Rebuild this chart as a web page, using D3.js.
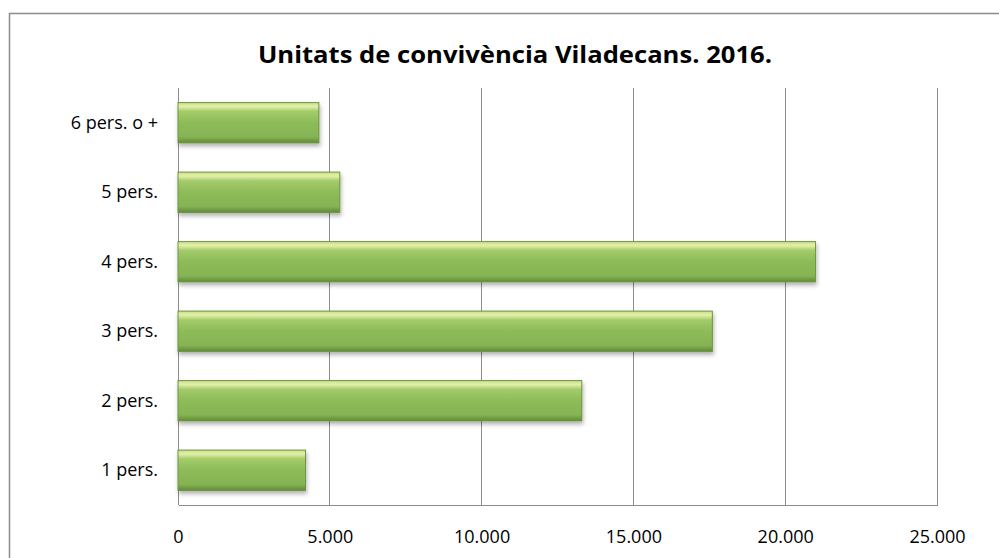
<!DOCTYPE html>
<html>
<head>
<meta charset="utf-8">
<script src="https://cdn.jsdelivr.net/npm/d3@7"></script>
<style>
  body { margin: 0; background: #fff; }
  svg { display: block; font-family: "Open Sans", Lato, sans-serif; }
</style>
</head>
<body>
<svg width="999" height="558"></svg>
<script>
var categories = ['1 pers.', '2 pers.', '3 pers.', '4 pers.', '5 pers.', '6 pers. o +']
var values = [4200, 13300, 17600, 21000, 5330, 4640]
var tickValues = [0, 5000, 10000, 15000, 20000, 25000]
var title = 'Unitats de convivència Viladecans. 2016.'

var svg = d3.select('svg')
var margin = {top: 88, right: 62, bottom: 53, left: 178}
var width = 999
var height = 558

// chart frame
svg.append('rect')
  .attr('x', 9.5).attr('y', 13.5)
  .attr('width', 1020).attr('height', 600)
  .attr('fill', '#fff')
  .attr('stroke', '#8c8c8c')
  .attr('stroke-width', 1.5)

var defs = svg.append('defs')
var grad = defs.append('linearGradient')
  .attr('id', 'barGrad')
  .attr('x1', 0).attr('y1', 0).attr('x2', 0).attr('y2', 1)
grad.append('stop').attr('offset', '0%').attr('stop-color', '#c9e08c')
grad.append('stop').attr('offset', '10%').attr('stop-color', '#e4efa8')
grad.append('stop').attr('offset', '22%').attr('stop-color', '#a3cb6a')
grad.append('stop').attr('offset', '50%').attr('stop-color', '#8dbb58')
grad.append('stop').attr('offset', '85%').attr('stop-color', '#86b454')
grad.append('stop').attr('offset', '100%').attr('stop-color', '#5f8a35')

var shadow = defs.append('filter').attr('id', 'shadow')
  .attr('x', '-5%').attr('y', '-20%').attr('width', '110%').attr('height', '160%')
shadow.append('feDropShadow')
  .attr('dx', 1).attr('dy', 3).attr('stdDeviation', 2)
  .attr('flood-color', '#000').attr('flood-opacity', 0.3)

var x = d3.scaleLinear()
  .domain([0, 25000])
  .range([margin.left, width - margin.right])

var y = d3.scaleBand()
  .domain(categories.slice().reverse())
  .range([margin.top, height - margin.bottom])
  .paddingInner(0.42)
  .paddingOuter(0.21)

var fmt = function(d) { return d3.format(',')(d).replace(/,/g, '.') }

// gridlines
svg.append('g')
  .selectAll('line').data(tickValues).enter().append('line')
  .attr('x1', function(d) { return x(d) })
  .attr('x2', function(d) { return x(d) })
  .attr('y1', margin.top)
  .attr('y2', height - margin.bottom)
  .attr('stroke', '#8c8c8c')
  .attr('stroke-width', 1)
  .attr('shape-rendering', 'crispEdges')

// bottom axis
var xAxis = svg.append('g')
  .attr('transform', 'translate(0,' + (height - margin.bottom) + ')')
  .call(d3.axisBottom(x).tickValues(tickValues).tickFormat(fmt).tickSize(0).tickPadding(25))
xAxis.select('.domain').attr('stroke', '#8c8c8c').attr('shape-rendering', 'crispEdges')
xAxis.selectAll('text').attr('font-size', 18).attr('fill', '#000').attr('font-family', '"Open Sans", sans-serif')

// left axis
var yAxis = svg.append('g')
  .attr('transform', 'translate(' + margin.left + ',0)')
  .call(d3.axisLeft(y).tickSize(0).tickPadding(20))
yAxis.select('.domain').remove()
yAxis.selectAll('text').attr('font-size', 18).attr('fill', '#000').attr('font-family', '"Open Sans", sans-serif')

// bars
svg.append('g')
  .selectAll('rect').data(categories).enter().append('rect')
  .attr('x', x(0))
  .attr('y', function(d) { return y(d) })
  .attr('width', function(d, i) { return x(values[i]) - x(0) })
  .attr('height', y.bandwidth())
  .attr('fill', 'url(#barGrad)')
  .attr('stroke', '#6e9441')
  .attr('stroke-width', 1)
  .attr('filter', 'url(#shadow)')

svg.append('text')
  .attr('x', 515)
  .attr('y', 63)
  .attr('text-anchor', 'middle')
  .attr('font-size', 24)
  .attr('font-weight', 'bold')
  .attr('textLength', 514)
  .attr('lengthAdjust', 'spacingAndGlyphs')
  .text(title)
</script>
</body>
</html>
